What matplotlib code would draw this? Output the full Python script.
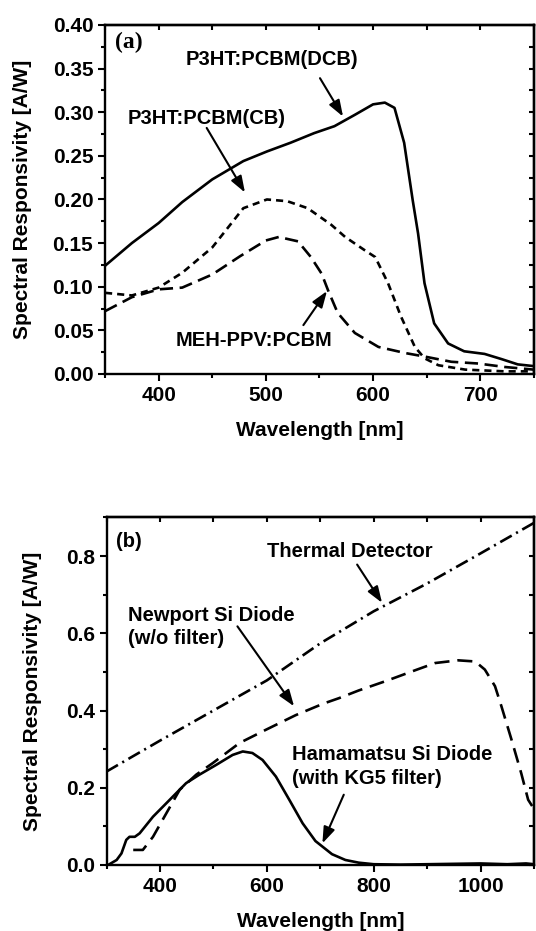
import matplotlib
matplotlib.use("Agg")
import matplotlib.pyplot as plt
from matplotlib.ticker import MultipleLocator, FormatStrFormatter, NullFormatter

plt.rcParams["font.family"] = ["Liberation Sans", "DejaVu Sans"]
plt.rcParams["font.weight"] = "bold"
plt.rcParams["axes.labelweight"] = "bold"

# ---- panel (a): polymer blend photodiodes ----
dcb_wl = [350, 375, 400, 422, 450, 479, 501, 523, 545, 564, 583, 600, 611, 620,
          629, 637, 642, 648, 657, 670, 685, 704, 720, 735, 750]
dcb_resp = [0.124, 0.150, 0.173, 0.197, 0.223, 0.244, 0.255, 0.265, 0.276, 0.284,
            0.297, 0.309, 0.311, 0.305, 0.265, 0.199, 0.161, 0.104, 0.058, 0.035,
            0.026, 0.023, 0.017, 0.011, 0.009]

cb_wl = [350, 375, 400, 422, 450, 479, 501, 520, 539, 561, 574, 592, 602, 614,
         626, 639, 648, 661, 686, 723, 750]
cb_resp = [0.093, 0.090, 0.099, 0.116, 0.145, 0.190, 0.200, 0.198, 0.190, 0.171,
           0.157, 0.142, 0.134, 0.104, 0.066, 0.031, 0.018, 0.010, 0.005, 0.003, 0.003]

meh_wl = [350, 375, 400, 422, 450, 476, 500, 512, 530, 542, 552, 558, 567, 583,
          605, 630, 648, 673, 698, 723, 750]
meh_resp = [0.072, 0.088, 0.097, 0.099, 0.114, 0.135, 0.153, 0.157, 0.152, 0.134,
            0.115, 0.096, 0.070, 0.047, 0.031, 0.024, 0.020, 0.014, 0.012, 0.008, 0.005]

# ---- panel (b): reference detectors ----
thermal_wl = [300, 400, 500, 600, 700, 800, 900, 1000, 1100]
thermal_resp = [0.242, 0.322, 0.400, 0.478, 0.574, 0.657, 0.729, 0.807, 0.886]

newport_wl = [350, 368, 387, 412, 437, 468, 499, 549, 598, 654, 706, 735, 772, 822,
              881, 915, 958, 990, 1008, 1027, 1039, 1058, 1076, 1089, 1100]
newport_resp = [0.039, 0.039, 0.073, 0.134, 0.195, 0.234, 0.264, 0.316, 0.350, 0.388,
                0.418, 0.432, 0.452, 0.476, 0.506, 0.523, 0.530, 0.527, 0.506, 0.463,
                0.411, 0.324, 0.238, 0.169, 0.145]

ham_wl = [303, 319, 328, 337, 343, 353, 362, 387, 412, 449, 474, 505, 536, 555, 573,
          592, 617, 642, 667, 691, 722, 747, 772, 800, 850, 900, 950, 1000, 1050,
          1085, 1100]
ham_resp = [0.0, 0.013, 0.030, 0.065, 0.073, 0.073, 0.082, 0.125, 0.160, 0.212, 0.234,
            0.259, 0.285, 0.294, 0.290, 0.272, 0.229, 0.169, 0.108, 0.062, 0.028,
            0.013, 0.006, 0.002, 0.001, 0.002, 0.003, 0.004, 0.002, 0.004, 0.002]

LW = 1.9
FS = 14.5


def style_axes(ax, xlim, ylim, xmaj, xmin, ymaj, ymin, yfmt):
    ax.set_xlim(*xlim)
    ax.set_ylim(*ylim)
    ax.xaxis.set_major_locator(MultipleLocator(xmaj))
    ax.xaxis.set_minor_locator(MultipleLocator(xmin))
    ax.yaxis.set_major_locator(MultipleLocator(ymaj))
    ax.yaxis.set_minor_locator(MultipleLocator(ymin))
    ax.yaxis.set_major_formatter(FormatStrFormatter(yfmt))
    ax.tick_params(which="major", direction="out", length=5, width=1.5,
                   labelsize=15, pad=3.5)
    ax.tick_params(which="minor", direction="out", length=3, width=1.5)
    for sp in ax.spines.values():
        sp.set_linewidth(1.7)

    # inward ticks on the top and right frame
    top = ax.secondary_xaxis("top")
    top.xaxis.set_major_locator(MultipleLocator(xmin))
    top.xaxis.set_major_formatter(NullFormatter())
    top.tick_params(direction="in", length=3.5, width=1.5)
    top.spines["top"].set_linewidth(1.7)
    right = ax.secondary_yaxis("right")
    right.yaxis.set_major_locator(MultipleLocator(ymin))
    right.yaxis.set_major_formatter(NullFormatter())
    right.tick_params(direction="in", length=3.5, width=1.5)
    right.spines["right"].set_linewidth(1.7)

    ax.set_xlabel("Wavelength [nm]", fontsize=15)
    ax.set_ylabel("Spectral Responsivity [A/W]", fontsize=15)


def arrow(ax, start, tip):
    ax.annotate("", xy=tip, xytext=start,
                arrowprops=dict(arrowstyle="-|>,head_length=0.7,head_width=0.25",
                                color="k", lw=1.5, mutation_scale=14,
                                shrinkA=0, shrinkB=0))


fig = plt.figure(figsize=(5.36, 9.31), dpi=100)
ax_a = fig.add_axes([0.196, 0.5983, 0.800, 0.3749])
ax_b = fig.add_axes([0.1987, 0.0709, 0.7976, 0.3733])

# panel (a)
ax_a.plot(dcb_wl, dcb_resp, color="k", lw=LW, linestyle="-")
ax_a.plot(cb_wl, cb_resp, color="k", lw=LW, dashes=(2.7, 1.9))
ax_a.plot(meh_wl, meh_resp, color="k", lw=LW, dashes=(5.0, 2.5))
style_axes(ax_a, (350, 750), (0, 0.40), 100, 50, 0.05, 0.025, "%.2f")
ax_a.yaxis.set_label_coords(-0.170, 0.5)
ax_a.xaxis.set_label_coords(0.5, -0.135)

ax_a.text(359, 0.380, "(a)", fontsize=17, fontweight="bold",
          family=["Liberation Serif", "DejaVu Serif"], ha="left", va="center")
ax_a.text(425.5, 0.360, "P3HT:PCBM(DCB)", fontsize=FS, ha="left", va="center")
ax_a.text(371.4, 0.293, "P3HT:PCBM(CB)", fontsize=FS, ha="left", va="center")
ax_a.text(415.8, 0.038, "MEH-PPV:PCBM", fontsize=FS, ha="left", va="center")
arrow(ax_a, (550.5, 0.339), (572, 0.295))
arrow(ax_a, (444.8, 0.282), (480.5, 0.208))
arrow(ax_a, (535, 0.056), (557, 0.095))

# panel (b)
ax_b.plot(thermal_wl, thermal_resp, color="k", lw=LW, dashes=(5.0, 1.9, 0.8, 1.9))
ax_b.plot(newport_wl, newport_resp, color="k", lw=LW, dashes=(5.7, 3.0))
ax_b.plot(ham_wl, ham_resp, color="k", lw=LW, linestyle="-")
style_axes(ax_b, (300, 1100), (0, 0.9), 200, 100, 0.2, 0.1, "%.1f")
ax_b.yaxis.set_label_coords(-0.151, 0.5)
ax_b.xaxis.set_label_coords(0.5, -0.135)

ax_b.text(318.6, 0.837, "(b)", fontsize=FS, ha="left", va="center")
ax_b.text(601, 0.813, "Thermal Detector", fontsize=FS, ha="left", va="center")
ax_b.text(340.6, 0.616, "Newport Si Diode\n(w/o filter)", fontsize=FS,
          ha="left", va="center", linespacing=1.25)
ax_b.text(648, 0.255, "Hamamatsu Si Diode\n(with KG5 filter)", fontsize=FS,
          ha="left", va="center", linespacing=1.3)
arrow(ax_b, (769, 0.778), (815.6, 0.679))
arrow(ax_b, (545, 0.618), (651, 0.411))
arrow(ax_b, (744, 0.182), (704, 0.056))

fig.savefig("out.png", dpi=100)
